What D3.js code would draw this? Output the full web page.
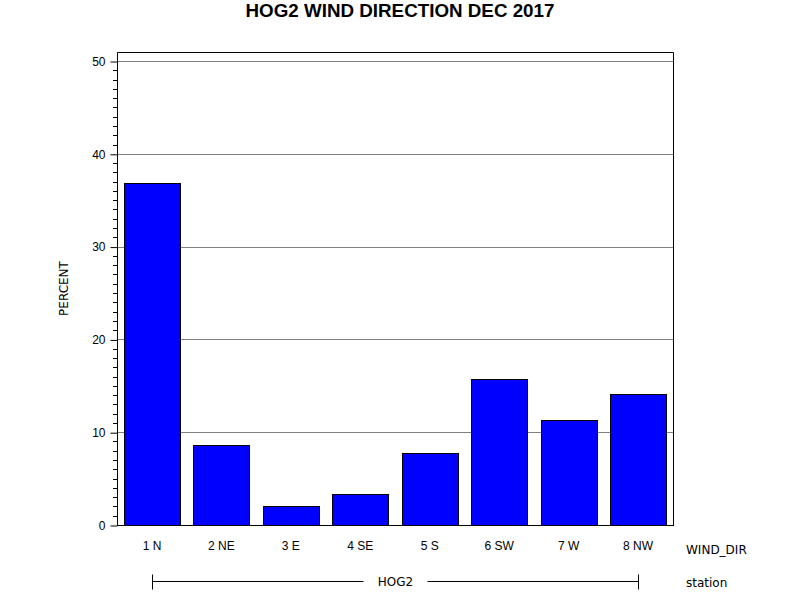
<!DOCTYPE html>
<html>
<head>
<meta charset="utf-8">
<script src="https://cdn.jsdelivr.net/npm/d3@7"></script>
<style>
  body { margin: 0; background: #fff; }
  svg { display: block; }
</style>
</head>
<body>
<div id="chart"></div>
<script>
// wind direction shares, HOG2, Dec 2017
const directions = ["1 N", "2 NE", "3 E", "4 SE", "5 S", "6 SW", "7 W", "8 NW"];
const percents = [36.9, 8.6, 2.0, 3.3, 7.8, 15.7, 11.3, 14.1];
const yTicks = [0, 10, 20, 30, 40, 50];
const stationName = "HOG2";

const width = 800, height = 600;
const plotLeft = 117, plotRight = 673, plotTop = 52, plotBottom = 525;

const svg = d3.select("#chart")
  .append("svg")
  .attr("width", width)
  .attr("height", height)
  .style("font-family", "'DejaVu Sans', sans-serif");

const y = d3.scaleLinear().domain([0, 50.97]).range([plotBottom, plotTop]);
const x = d3.scaleBand().domain(directions).range([plotLeft, plotRight])
  .paddingInner(0.1934).paddingOuter(0.1007);

// gridlines
svg.append("g")
  .selectAll("line")
  .data(yTicks.filter(d => d > 0))
  .enter()
  .append("line")
  .attr("x1", plotLeft).attr("x2", plotRight)
  .attr("y1", d => Math.round(y(d)) + 0.5)
  .attr("y2", d => Math.round(y(d)) + 0.5)
  .attr("stroke", "#808080")
  .attr("stroke-width", 1);

// bars
svg.append("g")
  .selectAll("rect")
  .data(percents)
  .enter()
  .append("rect")
  .attr("x", (d, i) => Math.round(x(directions[i])) + 0.5)
  .attr("y", d => Math.round(y(d)) + 0.5)
  .attr("width", Math.round(x.bandwidth()))
  .attr("height", d => Math.round(y(0)) - Math.round(y(d)))
  .attr("fill", "#0000ff")
  .attr("stroke", "#000")
  .attr("stroke-width", 1);

// frame
svg.append("path")
  .attr("d", `M${plotLeft + 0.5},${plotBottom + 0.5}V${plotTop + 0.5}H${plotRight + 0.5}V${plotBottom + 0.5}`)
  .attr("fill", "none")
  .attr("stroke", "#000");

// y axis with minor ticks
const yAxis = d3.axisLeft(y).tickValues(yTicks).tickSize(7).tickPadding(5);
const gy = svg.append("g")
  .attr("transform", `translate(${plotLeft + 0.5},0.5)`)
  .call(yAxis);
gy.selectAll("text").style("font-size", "12px").attr("fill", "#000");
gy.select(".domain").remove();
gy.selectAll(".tick line").attr("stroke", "#000");

const minor = d3.range(0, 51).filter(v => v % 10 !== 0);
svg.append("g")
  .selectAll("line")
  .data(minor)
  .enter()
  .append("line")
  .attr("x1", plotLeft - 4).attr("x2", plotLeft)
  .attr("y1", d => Math.round(y(d)) + 0.5)
  .attr("y2", d => Math.round(y(d)) + 0.5)
  .attr("stroke", "#000");

// x axis line
svg.append("line")
  .attr("x1", plotLeft).attr("x2", plotRight + 1)
  .attr("y1", plotBottom + 0.5).attr("y2", plotBottom + 0.5)
  .attr("stroke", "#000");

// category labels
const xAxis = d3.axisBottom(x).tickSize(0).tickPadding(0);
const gx = svg.append("g")
  .attr("transform", `translate(0,${plotBottom + 15})`)
  .call(xAxis);
gx.select(".domain").remove();
gx.selectAll("text").style("font-size", "12px").attr("fill", "#000").attr("dy", "0.8em");

svg.append("text")
  .attr("x", 686).attr("y", 554)
  .style("font-size", "12px")
  .text("WIND_DIR");

// station bracket
const bx1 = Math.round(x(directions[0]) + x.bandwidth() / 2) + 0.5;
const bx2 = Math.round(x(directions[directions.length - 1]) + x.bandwidth() / 2) + 0.5;
const by = 581.5;
const mid = (bx1 + bx2) / 2;
const bracket = svg.append("g").attr("stroke", "#000").attr("fill", "none");
bracket.append("line").attr("x1", bx1).attr("x2", mid - 32).attr("y1", by).attr("y2", by);
bracket.append("line").attr("x1", mid + 32).attr("x2", bx2).attr("y1", by).attr("y2", by);
bracket.append("line").attr("x1", bx1).attr("x2", bx1).attr("y1", by - 7).attr("y2", by + 8);
bracket.append("line").attr("x1", bx2).attr("x2", bx2).attr("y1", by - 7).attr("y2", by + 8);
svg.append("text")
  .attr("x", mid).attr("y", by + 4)
  .attr("text-anchor", "middle")
  .style("font-size", "12px")
  .text(stationName);
svg.append("text")
  .attr("x", 686).attr("y", by + 5)
  .style("font-size", "12px")
  .text("station");

// y label
svg.append("text")
  .attr("transform", `translate(68,${(plotTop + plotBottom) / 2}) rotate(-90)`)
  .attr("text-anchor", "middle")
  .style("font-size", "12px")
  .text("PERCENT");

// title
svg.append("text")
  .attr("x", width / 2).attr("y", 17)
  .attr("text-anchor", "middle")
  .style("font-family", "'Liberation Sans', Arial, sans-serif")
  .style("font-size", "18.8px")
  .style("font-weight", "bold")
  .text("HOG2 WIND DIRECTION DEC 2017");
</script>
</body>
</html>
